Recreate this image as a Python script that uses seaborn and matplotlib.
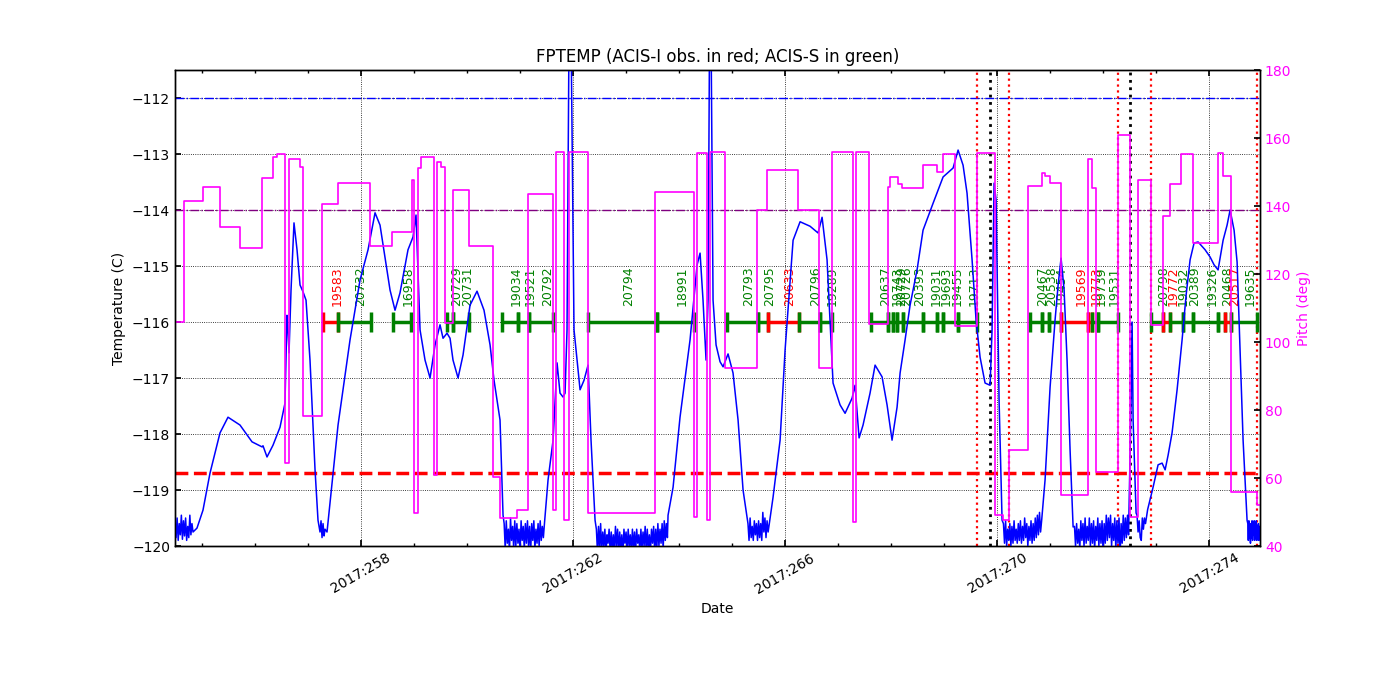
import numpy as np
import pandas as pd
import matplotlib
matplotlib.use("Agg")
import matplotlib.pyplot as plt
import seaborn as sns
from matplotlib.ticker import MultipleLocator, FuncFormatter

# ---------------- data ----------------
# FPTEMP readings: (day of 2017, temperature C)
temp_readings = [
    (254.49, -119.55), (254.51, -119.85), (254.53, -119.5), (254.55, -119.9), (254.57, -119.6),
    (254.59, -119.8), (254.61, -119.45), (254.63, -119.88), (254.65, -119.55), (254.67, -119.82),
    (254.69, -119.5), (254.71, -119.9), (254.73, -119.65), (254.75, -119.85), (254.77, -119.45),
    (254.79, -119.8), (254.81, -119.6), (254.83, -119.75),
    (254.905, -119.68), (255.018, -119.36), (255.150, -118.70), (255.339, -117.98), (255.490, -117.70),
    (255.716, -117.84), (255.943, -118.14), (256.132, -118.23), (256.150, -118.21), (256.226, -118.41),
    (256.339, -118.20), (256.471, -117.88), (256.565, -117.45), (256.603, -115.88), (256.622, -116.14),
    (256.641, -116.55), (256.679, -115.43), (256.735, -114.23), (256.792, -114.71), (256.849, -115.34),
    (256.905, -115.46), (256.962, -115.61), (257.037, -116.68), (257.132, -118.64), (257.188, -119.54),
    (257.226, -119.75), (257.245, -119.55), (257.264, -119.85), (257.283, -119.6), (257.302, -119.82),
    (257.320, -119.7), (257.358, -119.75),
    (257.566, -117.84), (257.792, -116.32), (257.981, -115.25), (258.132, -114.71), (258.264, -114.05),
    (258.358, -114.27), (258.547, -115.43), (258.641, -115.79), (258.735, -115.48), (258.886, -114.71),
    (258.981, -114.48), (259.037, -114.09), (259.113, -116.14), (259.207, -116.68), (259.302, -117.00),
    (259.396, -116.41), (259.490, -116.05), (259.547, -116.29), (259.622, -116.20), (259.679, -116.29),
    (259.735, -116.68), (259.830, -117.00), (259.924, -116.59), (260.056, -115.70), (260.188, -115.45),
    (260.320, -115.79), (260.434, -116.41), (260.509, -117.04), (260.622, -117.75), (260.679, -119.45),
    (260.70, -119.6), (260.72, -120.05), (260.74, -119.55), (260.76, -119.95), (260.78, -119.7),
    (260.80, -120.1), (260.82, -119.5), (260.84, -119.9), (260.86, -119.65), (260.88, -120.05),
    (260.90, -119.55), (260.92, -120.0), (260.94, -119.6), (260.96, -119.95), (260.98, -119.7),
    (261.00, -120.1), (261.02, -119.55), (261.04, -119.9), (261.06, -119.65), (261.08, -120.05),
    (261.10, -119.6), (261.12, -119.95), (261.14, -119.55), (261.16, -120.0), (261.18, -119.65),
    (261.20, -120.1), (261.22, -119.6), (261.24, -119.9), (261.26, -119.55), (261.28, -120.05),
    (261.30, -119.7), (261.32, -119.95), (261.34, -119.6), (261.36, -120.0), (261.38, -119.55),
    (261.40, -119.9), (261.42, -119.65), (261.44, -119.85), (261.46, -119.6),
    (261.528, -118.82), (261.623, -118.11), (261.698, -116.73), (261.754, -117.27), (261.811, -117.34),
    (261.849, -117.27), (261.886, -116.14), (261.924, -110.8), (261.962, -110.8), (262.018, -116.14),
    (262.132, -117.21), (262.207, -117.04), (262.283, -116.77), (262.339, -118.11), (262.415, -119.54),
    (262.44, -119.7), (262.46, -120.1), (262.48, -119.65), (262.50, -120.05), (262.52, -119.6),
    (262.54, -120.1), (262.56, -119.75), (262.58, -120.0), (262.60, -119.7), (262.62, -120.15),
    (262.64, -119.8), (262.66, -119.95), (262.68, -119.7), (262.70, -120.1), (262.72, -119.75),
    (262.74, -120.05), (262.76, -119.8), (262.78, -120.1), (262.80, -119.65), (262.82, -120.0),
    (262.84, -119.7), (262.86, -120.1), (262.88, -119.75), (262.90, -120.05), (262.92, -119.8),
    (262.94, -120.15), (262.96, -119.7), (262.98, -119.95), (263.00, -119.75), (263.02, -120.1),
    (263.04, -119.7), (263.06, -120.0), (263.08, -119.8), (263.10, -120.1), (263.12, -119.7),
    (263.14, -120.05), (263.16, -119.75), (263.18, -120.1), (263.20, -119.7), (263.22, -119.95),
    (263.24, -119.8), (263.26, -120.1), (263.28, -119.7), (263.30, -120.05), (263.32, -119.75),
    (263.34, -120.0), (263.36, -119.65), (263.38, -120.1), (263.40, -119.7), (263.42, -120.05),
    (263.44, -119.8), (263.46, -120.1), (263.48, -119.7), (263.50, -119.95), (263.52, -119.65),
    (263.54, -120.1), (263.56, -119.7), (263.58, -120.05), (263.60, -119.6), (263.62, -120.0),
    (263.64, -119.7), (263.66, -119.95), (263.68, -119.6), (263.70, -120.05), (263.72, -119.55),
    (263.74, -119.9), (263.76, -119.6), (263.78, -119.85),
    (263.792, -119.45), (263.887, -118.95), (264.018, -117.70), (264.207, -116.32), (264.340, -114.98),
    (264.396, -114.77), (264.452, -115.61), (264.509, -116.68), (264.547, -115.6), (264.575, -110.8),
    (264.603, -110.8), (264.641, -115.61), (264.698, -116.41), (264.773, -116.71), (264.830, -116.80),
    (264.924, -116.57), (265.018, -116.91), (265.113, -117.75), (265.207, -119.0), (265.283, -119.48),
    (265.30, -119.6), (265.32, -119.9), (265.34, -119.5), (265.36, -119.85), (265.38, -119.65),
    (265.40, -119.9), (265.42, -119.55), (265.44, -119.8), (265.46, -119.6), (265.48, -119.9),
    (265.50, -119.55), (265.52, -119.85), (265.54, -119.6), (265.56, -119.9), (265.58, -119.4),
    (265.60, -119.75), (265.62, -119.5), (265.64, -119.85), (265.66, -119.55), (265.68, -119.75),
    (265.773, -119.13), (265.906, -118.11), (266.000, -116.50), (266.151, -114.54), (266.283, -114.21),
    (266.471, -114.29), (266.622, -114.41), (266.698, -114.13), (266.792, -114.89), (266.905, -117.09),
    (267.037, -117.48), (267.132, -117.63), (267.264, -117.36), (267.320, -117.13), (267.396, -118.07),
    (267.471, -117.84), (267.603, -117.27), (267.698, -116.77), (267.830, -116.98), (267.924, -117.48),
    (268.018, -118.11), (268.113, -117.52), (268.170, -116.91), (268.264, -116.32), (268.358, -115.70),
    (268.490, -115.07), (268.603, -114.36), (268.792, -113.88), (268.981, -113.41), (269.170, -113.25),
    (269.264, -112.93), (269.358, -113.20), (269.433, -113.70), (269.528, -114.89), (269.603, -115.96),
    (269.679, -116.63), (269.773, -117.09), (269.868, -117.13), (269.905, -116.14), (269.943, -113.52),
    (269.981, -113.82), (270.037, -117.39), (270.094, -119.54),
    (270.12, -119.6), (270.14, -119.95), (270.16, -119.55), (270.18, -120.0), (270.20, -119.7),
    (270.22, -119.9), (270.24, -119.6), (270.26, -120.0), (270.28, -119.65), (270.30, -119.95),
    (270.32, -119.55), (270.34, -119.9), (270.36, -119.7), (270.38, -119.95), (270.40, -119.6),
    (270.42, -119.9), (270.44, -119.55), (270.46, -119.95), (270.48, -119.65), (270.50, -119.9),
    (270.52, -119.5), (270.54, -119.85), (270.56, -119.6), (270.58, -120.0), (270.60, -119.65),
    (270.62, -119.9), (270.64, -119.55), (270.66, -119.95), (270.68, -119.6), (270.70, -119.9),
    (270.72, -119.5), (270.74, -119.85), (270.76, -119.45), (270.78, -119.8), (270.80, -119.4),
    (270.82, -119.75), (270.84, -119.55),
    (270.905, -118.82), (271.000, -117.16), (271.094, -115.96), (271.151, -115.34), (271.207, -114.86),
    (271.264, -115.43), (271.320, -116.68), (271.377, -118.29), (271.434, -119.66),
    (271.46, -119.65), (271.48, -120.0), (271.50, -119.6), (271.52, -119.95), (271.54, -119.7),
    (271.56, -120.05), (271.58, -119.55), (271.60, -119.9), (271.62, -119.6), (271.64, -120.0),
    (271.66, -119.5), (271.68, -119.95), (271.70, -119.65), (271.72, -119.9), (271.74, -119.5),
    (271.76, -120.0), (271.78, -119.6), (271.80, -119.95), (271.82, -119.55), (271.84, -120.05),
    (271.86, -119.65), (271.88, -119.9), (271.90, -119.5), (271.92, -120.0), (271.94, -119.6),
    (271.96, -119.95), (271.98, -119.55), (272.00, -120.1), (272.02, -119.6), (272.04, -119.95),
    (272.06, -119.45), (272.08, -119.9), (272.10, -119.5), (272.12, -119.85), (272.14, -119.45),
    (272.16, -120.0), (272.18, -119.6), (272.20, -119.9), (272.22, -119.5), (272.24, -120.05),
    (272.26, -119.55), (272.28, -119.95), (272.30, -119.5), (272.32, -120.2), (272.34, -119.6),
    (272.36, -119.95), (272.38, -119.45), (272.40, -119.9), (272.42, -119.5), (272.44, -119.85),
    (272.46, -119.45), (272.48, -119.8),
    (272.528, -117.39), (272.547, -116.0), (272.566, -117.75), (272.622, -119.41),
    (272.64, -119.45), (272.66, -119.75), (272.68, -119.55), (272.70, -119.85), (272.72, -119.9),
    (272.74, -119.5), (272.76, -119.7), (272.78, -119.5), (272.80, -119.6), (272.84, -119.35),
    (272.943, -118.95), (273.037, -118.55), (273.113, -118.52), (273.170, -118.64), (273.226, -118.38),
    (273.301, -117.98), (273.396, -117.21), (273.490, -116.32), (273.566, -115.52), (273.641, -114.89),
    (273.716, -114.59), (273.792, -114.57), (273.924, -114.71), (274.019, -114.84), (274.094, -114.98),
    (274.169, -115.07), (274.264, -114.54), (274.339, -114.27), (274.396, -114.0), (274.471, -114.36),
    (274.528, -114.93), (274.584, -116.5), (274.641, -118.11), (274.716, -119.54),
    (274.73, -119.6), (274.74, -119.9), (274.75, -119.55), (274.76, -119.85), (274.77, -119.65),
    (274.78, -119.95), (274.79, -119.6), (274.80, -119.85), (274.81, -119.55), (274.82, -119.9),
    (274.83, -119.65), (274.84, -119.8), (274.85, -119.55), (274.86, -119.9), (274.87, -119.6),
    (274.88, -119.85), (274.89, -119.55), (274.90, -119.9), (274.91, -119.65), (274.92, -119.85),
    (274.93, -119.6), (274.94, -119.9), (274.95, -119.65), (274.96, -119.8),
]

# Pitch (deg): value holds from each listed day until the next one
pitch_day = [254.490, 254.655, 255.018, 255.339, 255.716, 256.132, 256.339, 256.415, 256.565, 256.641,
             256.849, 256.905, 257.264, 257.566, 258.169, 258.584, 258.962, 259.000, 259.075, 259.132,
             259.377, 259.434, 259.509, 259.585, 259.735, 260.037, 260.490, 260.622, 260.943, 261.151,
             261.623, 261.670, 261.830, 261.924, 262.274, 263.547, 264.283, 264.340, 264.528, 264.585,
             264.868, 265.472, 265.660, 266.245, 266.642, 266.886, 267.283, 267.340, 267.585, 267.943,
             267.981, 268.132, 268.208, 268.603, 268.868, 268.981, 269.207, 269.622, 269.952, 270.113,
             270.226, 270.585, 270.849, 270.906, 271.000, 271.207, 271.717, 271.792, 271.868, 272.283,
             272.500, 272.660, 272.905, 273.132, 273.264, 273.471, 273.698, 274.169, 274.264, 274.415,
             274.906, 274.962]
pitch_deg = [106.0, 141.5, 145.6, 133.8, 127.6, 148.2, 154.4, 155.3, 64.4, 153.8,
             151.5, 78.2, 140.6, 146.8, 128.2, 132.4, 147.6, 49.7, 151.2, 154.4,
             61.0, 152.9, 151.5, 105.6, 144.7, 128.2, 60.3, 48.2, 50.6, 143.5,
             50.6, 155.9, 47.6, 155.9, 49.7, 144.1, 48.5, 155.6, 47.6, 155.9,
             92.4, 138.8, 150.6, 138.8, 92.4, 155.9, 47.0, 155.9, 105.3, 145.6,
             148.5, 146.5, 145.3, 152.0, 150.0, 155.3, 104.7, 155.6, 49.1, 47.6,
             68.2, 145.9, 149.7, 148.8, 146.8, 55.0, 153.8, 145.3, 61.8, 160.9,
             48.5, 147.6, 104.9, 137.0, 146.5, 155.3, 129.1, 155.6, 148.8, 55.9,
             52.0, 52.0]

# Observations
obs_ids = ["19583", "20732", "16958", "20729", "20731", "19034", "19521", "20792", "20794", "18991",
           "20793", "20795", "20633", "20796", "19289", "20637", "19743", "20729", "20726", "20393",
           "19031", "19693", "19455", "19713", "20467", "20538", "19454", "19569", "19773", "19739",
           "19531", "20798", "19772", "19032", "20389", "19326", "20468", "20517", "19635"]
obs_start = [257.283, 257.566, 258.603, 259.622, 259.735, 260.660, 260.962, 261.170, 262.283, 263.585,
             264.905, 265.490, 265.679, 266.264, 266.660, 267.622, 267.943, 268.037, 268.113, 268.226,
             268.603, 268.868, 268.981, 269.264, 270.622, 270.849, 270.981, 271.207, 271.717, 271.792,
             271.905, 272.905, 273.132, 273.264, 273.509, 273.698, 274.169, 274.301, 274.415]
obs_stop = [257.566, 258.188, 258.943, 259.735, 260.037, 260.962, 261.170, 261.623, 263.585, 264.283,
            265.490, 265.679, 266.264, 266.660, 266.886, 267.943, 268.037, 268.113, 268.226, 268.603,
            268.868, 268.981, 269.264, 269.622, 270.849, 270.981, 271.207, 271.717, 271.792, 271.905,
            272.283, 273.132, 273.264, 273.509, 273.698, 274.169, 274.301, 274.415, 274.906]
obs_instr = ["I", "S", "S", "S", "S", "S", "S", "S", "S", "S",
             "S", "S", "I", "S", "S", "S", "S", "S", "S", "S",
             "S", "S", "S", "S", "S", "S", "S", "I", "I", "S",
             "S", "S", "I", "S", "S", "S", "S", "I", "S"]

# reference lines
planning_limit = -118.7
acis_limit_1 = -114.0
acis_limit_2 = -112.0
red_event_days = [269.622, 270.226, 272.283, 272.905, 274.906]
black_event_days = [269.868, 272.509]

x_ticks = [258, 262, 266, 270, 274]
x_range = (254.49, 274.96)
temp_range = (-120.0, -111.5)
pitch_range = (40, 180)
obs_level = -116.0

# ---------------- plotting ----------------
sns.set_theme(style="white")
plt.rcParams["font.family"] = ["DejaVu Sans"]
plt.rcParams.update({
    "axes.edgecolor": "black", "axes.linewidth": 1.0, "axes.labelcolor": "black",
    "text.color": "black", "xtick.color": "black", "ytick.color": "black",
    "xtick.direction": "in", "ytick.direction": "in",
    "xtick.top": True, "xtick.bottom": True, "ytick.left": True,
    "xtick.major.size": 4, "xtick.minor.size": 2, "ytick.major.size": 4,
    "xtick.labelsize": 10, "ytick.labelsize": 10, "axes.labelsize": 10,
    "axes.titlesize": 12,
})

fig = plt.figure(figsize=(14, 7), dpi=100)
ax = fig.add_axes([0.125, 0.22, 0.775, 0.68])

temp_df = pd.DataFrame(temp_readings, columns=["day", "temp"])
pitch_df = pd.DataFrame({"day": pitch_day, "pitch": pitch_deg})

colors = {"I": "#ff0000", "S": "#008000"}
for oid, s, e, ins in zip(obs_ids, obs_start, obs_stop, obs_instr):
    c = colors[ins]
    ax.plot([s, e], [obs_level, obs_level], color=c, lw=2.5, marker="|", ms=14, mew=2.5,
            solid_capstyle="butt", zorder=3)
    ax.text((s + e) / 2, obs_level + 0.28, oid, rotation=90, color=c, fontsize=9,
            ha="left", va="bottom", zorder=3)

ax.axhline(acis_limit_2, color="blue", ls="-.", lw=1, zorder=2)
ax.axhline(acis_limit_1, color="purple", ls="-.", lw=1, zorder=2)
ax.axhline(planning_limit, color="red", ls="--", lw=2.5, zorder=2)
for d in red_event_days:
    ax.axvline(d, color="red", ls=":", lw=1.6, zorder=2)
for d in black_event_days:
    ax.axvline(d, color="black", ls=":", lw=2, zorder=2)

sns.lineplot(data=temp_df, x="day", y="temp", ax=ax, color="blue", lw=1.1,
             estimator=None, sort=False, legend=False, zorder=4)

ax.set_xlim(*x_range)
ax.set_ylim(*temp_range)
ax.set_xticks(x_ticks)
ax.xaxis.set_minor_locator(MultipleLocator(1))
ax.xaxis.set_major_formatter(FuncFormatter(lambda v, p: f"2017:{int(round(v))}"))
ax.yaxis.set_major_locator(MultipleLocator(1))
ax.grid(True, which="major", color="black", ls=":", lw=0.6)
ax.set_xlabel("Date")
ax.set_ylabel("Temperature (C)")
ax.set_title("FPTEMP (ACIS-I obs. in red; ACIS-S in green)")
for lab in ax.get_xticklabels():
    lab.set_rotation(30)
    lab.set_ha("center")

ax2 = ax.twinx()
sns.lineplot(data=pitch_df, x="day", y="pitch", ax=ax2, color="#ff00ff", lw=1.2,
             estimator=None, sort=False, legend=False, drawstyle="steps-post")
ax2.set_ylim(*pitch_range)
ax2.set_xlim(*x_range)
ax2.yaxis.set_major_locator(MultipleLocator(20))
ax2.tick_params(axis="y", direction="in", colors="black", labelcolor="#ff00ff", right=True)
ax2.set_ylabel("Pitch (deg)", color="#ff00ff")
ax2.grid(False)
for sp in ax2.spines.values():
    sp.set_edgecolor("black")

fig.savefig("out.png", dpi=100)
